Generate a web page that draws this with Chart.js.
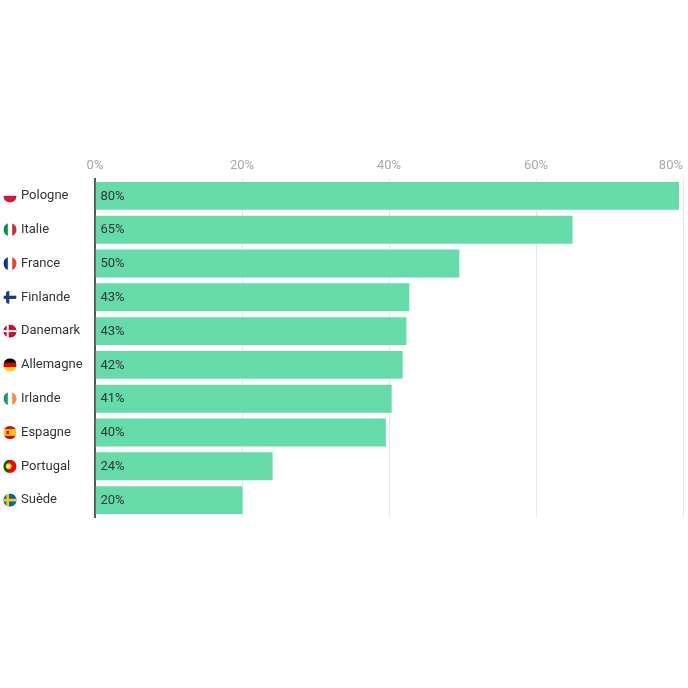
<!DOCTYPE html>
<html>
<head>
<meta charset="utf-8">
<script src="https://cdn.jsdelivr.net/npm/chart.js@4.4.1/dist/chart.umd.min.js"></script>
<style>
  html, body { margin: 0; padding: 0; background: #fff; }
  #wrap { width: 688px; height: 688px; position: relative; }
</style>
</head>
<body>
<div id="wrap"><canvas id="chart"></canvas></div>
<script>
"use strict";

// data
const countries = ["Pologne", "Italie", "France", "Finlande", "Danemark", "Allemagne", "Irlande", "Espagne", "Portugal", "Suède"];
const flagCodes = ["pl", "it", "fr", "fi", "dk", "de", "ie", "es", "pt", "se"];
const shares = [79.6, 65.1, 49.7, 42.9, 42.5, 42.0, 40.5, 39.7, 24.3, 20.2];
const tickValues = [0, 20, 40, 60, 80];

const FONT = "Roboto, 'Noto Sans', sans-serif";
const BAR = "#66dbaa";

function stripesV(ctx, x, y, r, cols) {
  const w = (2 * r) / cols.length;
  cols.forEach((c, i) => { ctx.fillStyle = c; ctx.fillRect(x - r + i * w, y - r, w + 0.3, 2 * r); });
}
function stripesH(ctx, x, y, r, cols, weights) {
  weights = weights || cols.map(() => 1);
  const tot = weights.reduce((a, b) => a + b, 0);
  let yy = y - r;
  cols.forEach((c, i) => {
    const h = (2 * r) * weights[i] / tot;
    ctx.fillStyle = c; ctx.fillRect(x - r, yy, 2 * r, h + 0.3); yy += h;
  });
}
function nordic(ctx, x, y, r, bg, cross, t) {
  ctx.fillStyle = bg; ctx.fillRect(x - r, y - r, 2 * r, 2 * r);
  ctx.fillStyle = cross;
  ctx.fillRect(x - r, y - t / 2, 2 * r, t);
  ctx.fillRect(x - r * 0.35 - t / 2, y - r, t, 2 * r);
}

function drawFlag(ctx, code, x, y, r) {
  ctx.save();
  ctx.beginPath();
  ctx.arc(x, y, r, 0, Math.PI * 2);
  ctx.clip();
  switch (code) {
    case "pl": stripesH(ctx, x, y, r, ["#ffffff", "#dc143c"]); break;
    case "it": stripesV(ctx, x, y, r, ["#009246", "#ffffff", "#ce2b37"]); break;
    case "fr": stripesV(ctx, x, y, r, ["#0035a0", "#ffffff", "#ef4135"]); break;
    case "fi": nordic(ctx, x, y, r, "#ffffff", "#1a3a7a", 3.2); break;
    case "dk": nordic(ctx, x, y, r, "#c8102e", "#ffffff", 2); break;
    case "de": stripesH(ctx, x, y, r, ["#000000", "#dd0000", "#ffce00"]); break;
    case "ie": stripesV(ctx, x, y, r, ["#169b62", "#ffffff", "#ff883e"]); break;
    case "es":
      stripesH(ctx, x, y, r, ["#c60b1e", "#ffc400", "#c60b1e"], [1, 2, 1]);
      ctx.fillStyle = "#ad1519"; ctx.fillRect(x - r * 0.55, y - r * 0.25, r * 0.4, r * 0.5);
      break;
    case "pt":
      ctx.fillStyle = "#ff0000"; ctx.fillRect(x - r, y - r, 2 * r, 2 * r);
      ctx.fillStyle = "#006600"; ctx.fillRect(x - r, y - r, r * 0.8, 2 * r);
      ctx.beginPath(); ctx.arc(x - r * 0.2, y, r * 0.45, 0, Math.PI * 2);
      ctx.fillStyle = "#ffcc00"; ctx.fill();
      ctx.beginPath(); ctx.arc(x - r * 0.2, y, r * 0.25, 0, Math.PI * 2);
      ctx.fillStyle = "#ffffff"; ctx.fill();
      break;
    case "se": nordic(ctx, x, y, r, "#006aa7", "#fecc00", 2.6); break;
  }
  ctx.restore();
}

const decorations = {
  id: "decorations",
  afterDraw(chart) {
    const ctx = chart.ctx;
    const xs = chart.scales.x;
    const ys = chart.scales.y;
    const area = chart.chartArea;
    ctx.save();
    ctx.font = "13px " + FONT;
    ctx.textBaseline = "middle";

    // top axis labels: last one kept inside the canvas
    ctx.fillStyle = "#a8a8a8";
    xs.ticks.forEach((t, i) => {
      const px = xs.getPixelForValue(t.value);
      const last = i === xs.ticks.length - 1;
      ctx.textAlign = last ? "right" : "center";
      ctx.fillText(t.value + "%", last ? area.right : px, area.top - 13);
    });

    // flags next to the country names
    countries.forEach((c, i) => {
      drawFlag(ctx, flagCodes[i], 10, ys.getPixelForValue(i), 6.6);
    });

    // value labels inside the bars
    ctx.fillStyle = "#333333";
    ctx.textAlign = "left";
    const meta = chart.getDatasetMeta(0);
    meta.data.forEach((bar, i) => {
      ctx.fillText(Math.round(shares[i]) + "%", bar.base + 5, bar.y + 0.5);
    });
    ctx.restore();
  }
};

new Chart(document.getElementById("chart"), {
  type: "bar",
  data: {
    labels: countries,
    datasets: [{
      data: shares,
      backgroundColor: BAR,
      borderColor: "rgba(255,255,255,0.35)",
      borderWidth: 1,
      borderSkipped: "start",
      barPercentage: 0.885,
      categoryPercentage: 1
    }]
  },
  options: {
    indexAxis: "y",
    responsive: true,
    maintainAspectRatio: false,
    animation: false,
    layout: { padding: { left: 21, right: 5, top: 153, bottom: 171 } },
    scales: {
      x: {
        position: "top",
        min: 0,
        max: 80,
        afterBuildTicks: (scale) => { scale.ticks = tickValues.map(v => ({ value: v })); },
        afterFit: (scale) => { scale.height = 26; scale.paddingLeft = 0; scale.paddingRight = 0; },
        ticks: { display: false },
        grid: { color: "#e6e6e6", lineWidth: 1, drawTicks: false },
        border: { display: false }
      },
      y: {
        afterFit: (scale) => { scale.width = 74; },
        ticks: {
          crossAlign: "far",
          color: "#333333",
          font: { family: FONT, size: 13 }
        },
        grid: { display: false, drawTicks: false },
        border: { display: true, color: "#555555", width: 2 }
      }
    },
    plugins: {
      legend: { display: false },
      tooltip: { enabled: false }
    }
  },
  plugins: [decorations]
});
</script>
</body>
</html>
